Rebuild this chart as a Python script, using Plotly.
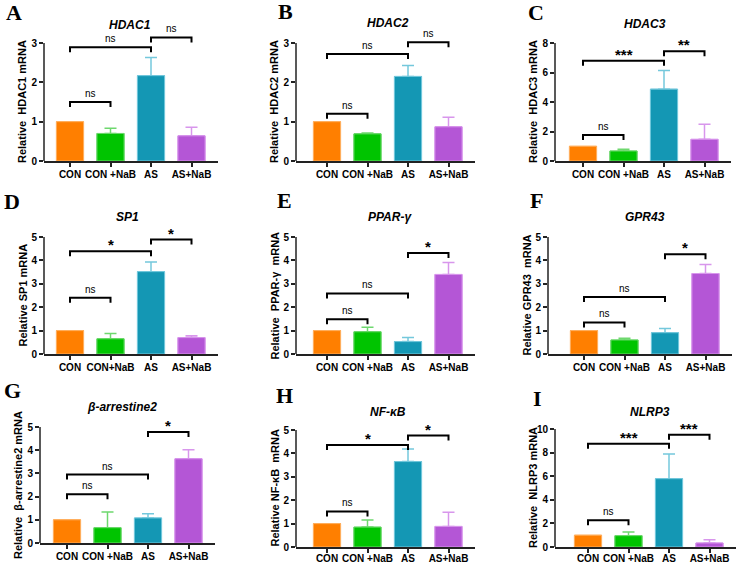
import plotly.graph_objects as go

W, H = 740, 563

# ---- data ----
groups = ["CON", "CON +NaB", "AS", "AS+NaB"]
groups_sp1 = ["CON", "CON+NaB", "AS", "AS+NaB"]

genes = ["HDAC1", "HDAC2", "HDAC3", "SP1", "PPAR-γ", "GPR43", "β-arrestine2", "NF-κB", "NLRP3"]
letters = ["A", "B", "C", "D", "E", "F", "G", "H", "I"]
ytitles = [
    "Relative  HDAC1 mRNA", "Relative  HDAC2 mRNA", "Relative  HDAC3 mRNA",
    "Relative SP1 mRNA", "Relative  PPAR-γ  mRNA", "Relative GPR43  mRNA",
    "Relative  β-arrestine2 mRNA", "Relative NF-κB  mRNA", "Relative  NLRP3 mRNA",
]

hdac1 = [1.0, 0.70, 2.17, 0.64]
hdac1_err = [0, 0.13, 0.46, 0.22]
hdac2 = [1.0, 0.69, 2.15, 0.87]
hdac2_err = [0, 0.02, 0.28, 0.24]
hdac3 = [1.0, 0.68, 4.87, 1.47]
hdac3_err = [0, 0.11, 1.27, 1.02]
sp1 = [1.0, 0.65, 3.52, 0.70]
sp1_err = [0, 0.23, 0.41, 0.08]
pparg = [1.0, 0.95, 0.53, 3.40]
pparg_err = [0, 0.19, 0.18, 0.51]
gpr43 = [1.0, 0.60, 0.91, 3.44]
gpr43_err = [0, 0.07, 0.18, 0.38]
barr2 = [1.0, 0.66, 1.08, 3.63]
barr2_err = [0, 0.68, 0.18, 0.39]
nfkb = [1.0, 0.85, 3.65, 0.88]
nfkb_err = [0, 0.30, 0.54, 0.61]
nlrp3 = [1.0, 0.96, 5.79, 0.34]
nlrp3_err = [0, 0.31, 2.09, 0.28]

means = [hdac1, hdac2, hdac3, sp1, pparg, gpr43, barr2, nfkb, nlrp3]
errs = [hdac1_err, hdac2_err, hdac3_err, sp1_err, pparg_err, gpr43_err, barr2_err, nfkb_err, nlrp3_err]

y_ticks = [
    [0, 1, 2, 3], [0, 1, 2, 3], [0, 2, 4, 6, 8],
    [0, 1, 2, 3, 4, 5], [0, 1, 2, 3, 4, 5], [0, 1, 2, 3, 4, 5],
    [0, 1, 2, 3, 4, 5], [0, 1, 2, 3, 4, 5], [0, 2, 4, 6, 8, 10],
]

# significance brackets: (from group, to group, height, label)
brackets = [
    [(0, 1, 1.50, "ns"), (0, 2, 2.89, "ns"), (2, 3, 3.14, "ns")],
    [(0, 1, 1.20, "ns"), (0, 2, 2.72, "ns"), (2, 3, 3.02, "ns")],
    [(0, 1, 1.77, "ns"), (0, 2, 6.80, "***"), (2, 3, 7.44, "**")],
    [(0, 1, 2.40, "ns"), (0, 2, 4.39, "*"), (2, 3, 4.89, "*")],
    [(0, 1, 1.48, "ns"), (0, 2, 2.59, "ns"), (2, 3, 4.32, "*")],
    [(0, 1, 1.35, "ns"), (0, 2, 2.44, "ns"), (2, 3, 4.26, "*")],
    [(0, 1, 2.10, "ns"), (0, 2, 2.95, "ns"), (2, 3, 4.78, "*")],
    [(0, 1, 1.52, "ns"), (0, 2, 4.36, "*"), (2, 3, 4.76, "*")],
    [(0, 1, 2.26, "ns"), (0, 2, 8.76, "***"), (2, 3, 9.52, "***")],
]

bar_colors = ["#FF7F00", "#00C400", "#1497B4", "#B456D6"]
err_colors = ["#FFB060", "#6ED86E", "#74C8DC", "#D896EC"]

# ---- layout of panels (pixels) ----
# y-axis x, first bar centre, y of 0, y of top tick, extended top value
axis_left = [44, 296, 555, 44, 296, 548, 40, 296, 555]
first_c = [70, 327, 583, 70, 327, 584, 67, 327, 588]
y0_px = [161, 161, 161, 354, 354, 354, 543, 547, 547]
ytop_px = [43, 43, 43, 237, 237, 237, 427, 430, 429]
y_ext = [3.5, 3.35, 8.3, 5.4, 5.0, 5.0, 5.35, 5.35, 10.5]
title_px = [(130, 25), (388, 23), (645, 24), (127, 217), (390, 217), (645, 217),
            (122, 407), (388, 412), (650, 412)]
letter_px = [(14, 12), (285, 11), (536, 13), (12, 202), (284, 201), (536, 201),
             (12, 390), (284, 395), (537, 398)]
spacing = 40.5
x_right = 3.65

fig = go.Figure()
shapes = []
annotations = []
layout = {}

for k in range(9):
    n = "" if k == 0 else str(k + 1)
    xa, ya = "x" + n, "y" + n
    labels = groups_sp1 if k == 3 else groups
    xs = list(range(len(labels)))
    top = y_ticks[k][-1]
    scale = (y0_px[k] - ytop_px[k]) / top

    # one bar per group carrying its own coloured error bar...
    for g in xs:
        fig.add_trace(go.Bar(
            x=[g], y=[means[k][g]], xaxis=xa, yaxis=ya, width=0.67,
            marker=dict(color=bar_colors[g], line=dict(color=err_colors[g], width=1)),
            error_y=dict(type="data", symmetric=False, array=[errs[k][g]], arrayminus=[0],
                         color=err_colors[g], thickness=1.5, width=6, visible=errs[k][g] > 0),
            showlegend=False, hoverinfo="skip",
        ))
    # ...then the same bars again so only the upper half of each error bar shows
    fig.add_trace(go.Bar(
        x=xs, y=means[k], xaxis=xa, yaxis=ya, width=0.67,
        marker=dict(color=bar_colors, line=dict(color=err_colors, width=1)),
        showlegend=False,
    ))

    tick = 5 / scale
    for i, j, h, lab in brackets[k]:
        fig.add_trace(go.Scatter(
            x=[i, i, j, j], y=[h - tick, h, h, h - tick], xaxis=xa, yaxis=ya,
            mode="lines", line=dict(color="black", width=2), showlegend=False, hoverinfo="skip",
        ))
        star = lab != "ns"
        annotations.append(dict(
            x=(i + j) / 2, y=h, xref=xa, yref=ya, text=lab, showarrow=False,
            xanchor="center", yanchor="bottom", yshift=-4 if star else 1,
            font=dict(family="Liberation Sans, Arial", size=15 if star else 10,
                      color="black", weight="bold" if star else "normal"),
        ))

    dom_top = y0_px[k] - y_ext[k] * scale
    x_min = (axis_left[k] - first_c[k]) / spacing
    right_px = first_c[k] + x_right * spacing
    layout["xaxis" + n] = dict(
        domain=[axis_left[k] / W, right_px / W], range=[x_min, x_right], anchor=ya,
        tickvals=xs, ticktext=labels, tickangle=0, showline=True, linecolor="#222", linewidth=1.5,
        ticks="outside", ticklen=4, tickwidth=1.5, tickcolor="#222", showgrid=False,
        zeroline=False, fixedrange=True, ticklabelstandoff=-3 if y0_px[k] > 545 else -1,
        tickfont=dict(family="Liberation Sans, Arial", size=10, color="black", weight="bold"),
    )
    layout["yaxis" + n] = dict(
        domain=[1 - y0_px[k] / H, 1 - dom_top / H], range=[0, y_ext[k]], anchor=xa,
        tickvals=y_ticks[k], showline=False, ticks="outside", ticklen=4, tickwidth=1.5,
        tickcolor="#222", showgrid=False, zeroline=False, fixedrange=True,
        tickfont=dict(family="Liberation Sans, Arial", size=10, color="black", weight="bold"),
    )
    # y axis line only up to the top tick
    shapes.append(dict(type="line", xref=xa + " domain", yref=ya, x0=0, x1=0, y0=0, y1=top,
                       line=dict(color="#222", width=1.5)))

    annotations.append(dict(
        x=0, y=top / 2, xref=xa + " domain", yref=ya, text=ytitles[k], textangle=-90,
        showarrow=False, xanchor="center", yanchor="middle", xshift=-22,
        font=dict(family="Liberation Sans, Arial", size=11, color="black", weight="bold"),
    ))
    tx, ty = title_px[k]
    annotations.append(dict(
        x=tx / W, y=1 - ty / H, xref="paper", yref="paper", text="<i>" + genes[k] + "</i>",
        showarrow=False, xanchor="center", yanchor="middle",
        font=dict(family="Liberation Sans, Arial", size=12, color="black", weight="bold"),
    ))
    lx, ly = letter_px[k]
    annotations.append(dict(
        x=lx / W, y=1 - ly / H, xref="paper", yref="paper", text=letters[k],
        showarrow=False, xanchor="center", yanchor="middle",
        font=dict(family="Liberation Serif, Times New Roman", size=22, color="black", weight="bold"),
    ))

fig.update_layout(
    width=W, height=H, margin=dict(l=0, r=0, t=0, b=0, autoexpand=False),
    paper_bgcolor="white", plot_bgcolor="white", barmode="overlay",
    shapes=shapes, annotations=annotations, **layout,
)

# drop the default page margin so the figure sits at the window's corner
fig.write_html("out.html", config={"displayModeBar": False},
               post_script="document.body.style.margin = '0';")
